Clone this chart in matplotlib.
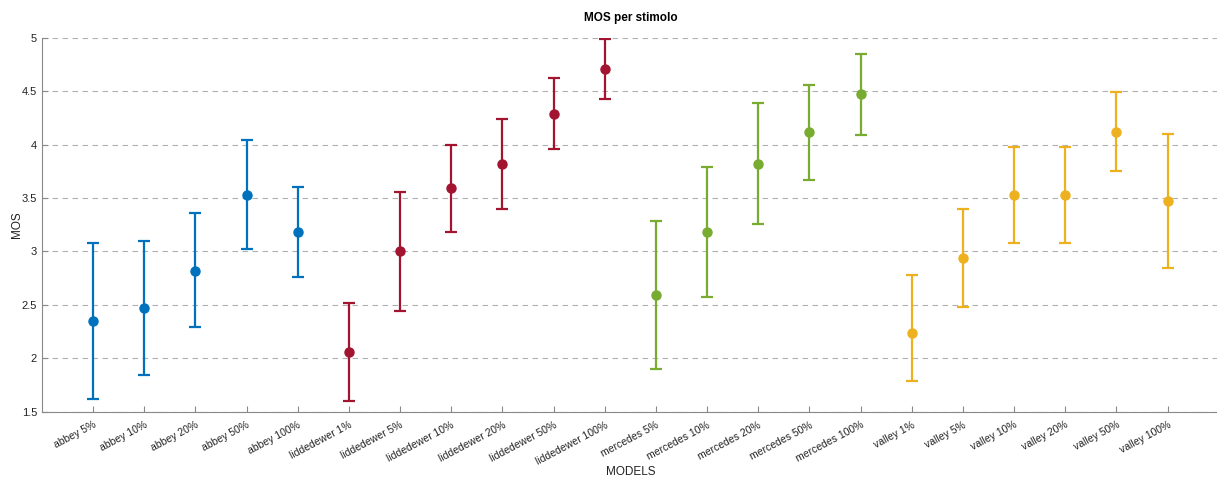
import numpy as np
import matplotlib
matplotlib.use('Agg')
import matplotlib.pyplot as plt

plt.rcParams['font.family'] = ['Liberation Sans', 'DejaVu Sans']

# Stimuli, grouped by model
labels = ['abbey 5%', 'abbey 10%', 'abbey 20%', 'abbey 50%', 'abbey 100%',
          'liddedewer 1%', 'liddedewer 5%', 'liddedewer 10%', 'liddedewer 20%', 'liddedewer 50%', 'liddedewer 100%',
          'mercedes 5%', 'mercedes 10%', 'mercedes 20%', 'mercedes 50%', 'mercedes 100%',
          'valley 1%', 'valley 5%', 'valley 10%', 'valley 20%', 'valley 50%', 'valley 100%']
groups = ['abbey'] * 5 + ['liddedewer'] * 6 + ['mercedes'] * 5 + ['valley'] * 6

mos = [2.35, 2.47, 2.82, 3.53, 3.18,
       2.06, 3.00, 3.59, 3.82, 4.29, 4.71,
       2.59, 3.18, 3.82, 4.12, 4.47,
       2.24, 2.94, 3.53, 3.53, 4.12, 3.47]
ci_low = [1.62, 1.84, 2.29, 3.02, 2.76,
          1.60, 2.44, 3.18, 3.40, 3.96, 4.43,
          1.90, 2.57, 3.26, 3.67, 4.09,
          1.79, 2.48, 3.08, 3.08, 3.75, 2.84]
ci_high = [3.08, 3.10, 3.36, 4.04, 3.60,
           2.52, 3.56, 4.00, 4.24, 4.62, 4.99,
           3.28, 3.79, 4.39, 4.56, 4.85,
           2.78, 3.40, 3.98, 3.98, 4.49, 4.10]

colors = {'abbey': '#0072BD', 'liddedewer': '#A2142F',
          'mercedes': '#77AC30', 'valley': '#EDB120'}

fig = plt.figure(figsize=(12.17, 4.78), dpi=100)
ax = fig.add_axes([0.0345, 0.139, 0.967, 0.782])

x = np.arange(1, len(labels) + 1)
mos = np.array(mos)
lo = mos - np.array(ci_low)
hi = np.array(ci_high) - mos

for g in colors:
    idx = [i for i, name in enumerate(groups) if name == g]
    ax.errorbar(x[idx], mos[idx], yerr=[lo[idx], hi[idx]], fmt='o',
                color=colors[g], ecolor=colors[g], elinewidth=1.6,
                capsize=4.5, capthick=1.6, markersize=6.5, zorder=3)

ax.set_xlim(0, len(labels) + 1)
ax.set_ylim(1.5, 5)
ax.set_yticks(np.arange(1.5, 5.01, 0.5))
ax.set_yticklabels(['1.5', '2', '2.5', '3', '3.5', '4', '4.5', '5'])
ax.set_xticks(x)
ax.set_xticklabels(labels, rotation=28, ha='right', rotation_mode='anchor')

ax.grid(axis='y', linestyle=(0, (5, 4)), color='#b0b0b0', linewidth=0.8)
ax.set_axisbelow(True)
ax.spines['top'].set_visible(False)
ax.spines['right'].set_visible(False)
for s in ['left', 'bottom']:
    ax.spines[s].set_color('#888888')
    ax.spines[s].set_linewidth(0.8)
ax.tick_params(direction='in', length=4, color='#888888', labelsize=8, labelcolor='#222222')
ax.tick_params(axis='x', pad=6, labelsize=7.5)

ax.set_title('MOS per stimolo', fontsize=8.5, fontweight='bold', pad=12)
ax.set_xlabel('MODELS', fontsize=8.5, color='#222222')
ax.xaxis.set_label_coords(0.5, -0.145)
ax.set_ylabel('MOS', fontsize=8.5, color='#222222')
ax.yaxis.set_label_coords(-0.016, 0.5)

plt.savefig('out.png', dpi=100)
